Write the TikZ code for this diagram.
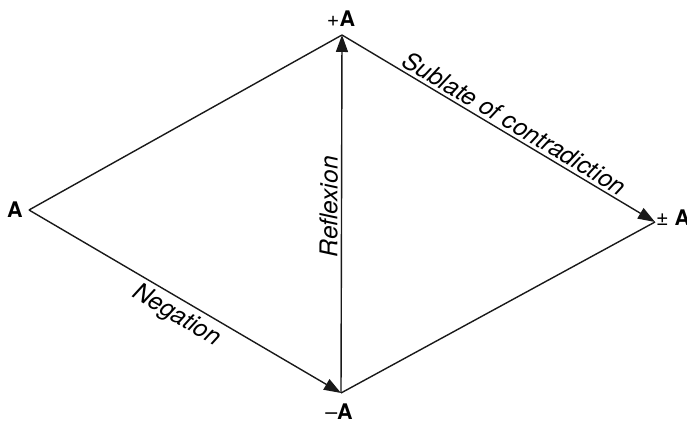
\documentclass[tikz,border=0pt]{standalone}
\usepackage{fontspec}
\setmainfont{TeX Gyre Heros}
\usetikzlibrary{arrows.meta}
\begin{document}
\begin{tikzpicture}[x=1pt,y=1pt,
  edge/.style={line width=1.4pt, draw=black!90},
  arr/.style={edge, -{Triangle[length=17pt,width=12pt]}},
  lab/.style={font=\fontsize{24.5}{28}\selectfont\itshape, inner sep=3pt},
  vlab/.style={font=\fontsize{21.5}{24}\selectfont, inner sep=1pt}]
\useasboundingbox (0,0) rectangle (687,422);
\coordinate (L) at (29,212);
\coordinate (T) at (342,387);
\coordinate (R) at (655,200);
\coordinate (B) at (341,29);
\draw[edge] (L) -- (T);
\draw[edge] (B) -- (R);
\draw[arr] (L) -- node[lab, sloped, below, pos=0.5, inner sep=4.5pt] (neg) {Negation} (B);
\draw[arr] (B) -- node[lab, sloped, above, pos=0.52] (ref) {Reflexion} (T);
\draw[arr] (T) -- node[lab, sloped, above, pos=0.53] (sub) {Sublate of contradiction} (R);
\node[vlab] (lA) at (15,212) {\textbf{A}};
\node[vlab] (pA) at (341,403) {+\textbf{A}};
\node[vlab] (mA) at (339,10) {–\textbf{A}};
\node[vlab, anchor=west] (pmA) at (655,204) {± \textbf{A}};
\end{tikzpicture}
\end{document}
